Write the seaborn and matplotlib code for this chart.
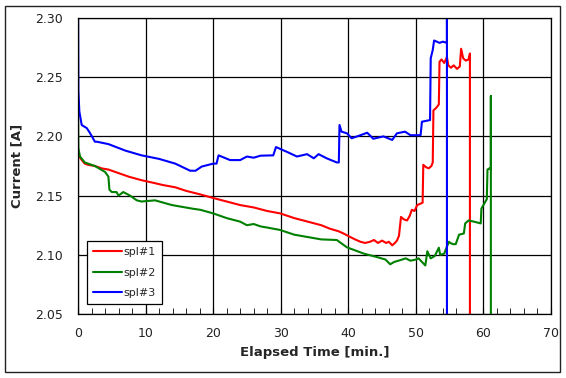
import matplotlib
matplotlib.use("Agg")
import matplotlib.pyplot as plt
from matplotlib.patches import Rectangle
from matplotlib.ticker import MultipleLocator, FormatStrFormatter
import seaborn as sns
import pandas as pd

# spl#1 (red)
t1 = [0, 0.3, 0.7, 1.0, 1.5, 2.5, 3.5, 4.5, 6, 7.5, 9.4, 11, 12.5, 14.4, 16, 18.1, 20, 22, 24, 26, 28, 29.9,
      32, 34, 36, 37.3, 38.5, 39.3, 40.3, 41, 41.8, 42.5, 43.2, 43.8, 44.4, 45, 45.6, 46, 46.5, 46.9, 47.2,
      47.5, 47.8, 48.2, 48.7, 49.1, 49.4, 49.8, 50.2, 50.6, 51.0, 51.1, 51.5, 51.9, 52.3, 52.5, 52.6, 53.0,
      53.4, 53.5, 53.8, 54.2, 54.6, 54.8, 55.2, 55.6, 56.1, 56.5, 56.7, 57.0, 57.4, 57.8, 58.0, 58.0]
y1 = [2.187, 2.182, 2.179, 2.177, 2.176, 2.175, 2.173, 2.172, 2.169, 2.166, 2.163, 2.161, 2.159, 2.157, 2.154,
      2.151, 2.148, 2.145, 2.142, 2.140, 2.137, 2.135, 2.131, 2.128, 2.125, 2.122, 2.120, 2.118, 2.115, 2.113,
      2.111, 2.110, 2.111, 2.1125, 2.110, 2.112, 2.110, 2.111, 2.108, 2.110, 2.112, 2.116, 2.132, 2.130, 2.129,
      2.133, 2.138, 2.137, 2.142, 2.143, 2.144, 2.176, 2.174, 2.173, 2.175, 2.178, 2.222, 2.224, 2.227, 2.263,
      2.265, 2.262, 2.267, 2.260, 2.258, 2.260, 2.257, 2.259, 2.274, 2.266, 2.264, 2.265, 2.270, 2.00]

# spl#2 (green)
t2 = [0, 0.05, 0.3, 1.0, 2.5, 4.0, 4.5, 4.65, 5.0, 5.7, 6.0, 6.7, 7.7, 8.7, 9.4, 11.4, 13.9, 16.9, 18.1, 20,
      22, 24, 25, 26, 27, 28, 29.9, 32, 34, 36, 38.3, 39.8, 42.3, 44.3, 45.5, 46.2, 46.8, 47.7, 48.5, 49.2,
      50.0, 50.4, 50.9, 51.4, 51.7, 52.2, 52.8, 53.4, 53.6, 54.2, 54.6, 54.9, 55.1, 55.5, 55.9, 56.4, 57.1,
      57.3, 57.8, 58.6, 59.6, 59.7, 60.3, 60.5, 60.6, 60.9, 61.1, 61.1, 61.1]
y2 = [2.220, 2.190, 2.183, 2.178, 2.175, 2.170, 2.166, 2.155, 2.153, 2.153, 2.150, 2.153, 2.150, 2.146, 2.145,
      2.146, 2.142, 2.139, 2.138, 2.135, 2.131, 2.128, 2.125, 2.126, 2.124, 2.123, 2.121, 2.117, 2.115, 2.113,
      2.1125, 2.1063, 2.101, 2.098, 2.096, 2.092, 2.094, 2.0955, 2.097, 2.095, 2.096, 2.097, 2.094, 2.091,
      2.103, 2.097, 2.099, 2.106, 2.100, 2.101, 2.107, 2.111, 2.110, 2.109, 2.109, 2.117, 2.118, 2.1265, 2.129,
      2.128, 2.1265, 2.139, 2.145, 2.147, 2.172, 2.173, 2.172, 2.234, 2.00]

# spl#3 (blue)
t3 = [0, 0.05, 0.2, 0.55, 1.3, 1.8, 2.5, 2.8, 4.5, 7, 9.4, 12, 14.4, 16.6, 17.4, 18.3, 20, 20.5, 20.8, 22.5,
      24, 25, 26, 27, 28.9, 29.3, 30.9, 32.4, 33.9, 34.9, 35.6, 36.8, 38.3, 38.6, 38.7, 39.0, 39.8, 40.5,
      41.8, 42.8, 43.7, 45.2, 46.5, 47.2, 48.4, 49.2, 50.7, 50.9, 52.1, 52.2, 52.5, 52.7, 53.5, 54.0, 54.6,
      54.6, 54.6]
y3 = [2.320, 2.239, 2.221, 2.2096, 2.207, 2.2026, 2.1955, 2.1955, 2.1935, 2.188, 2.184, 2.181, 2.177, 2.171,
      2.171, 2.1745, 2.177, 2.177, 2.184, 2.180, 2.180, 2.183, 2.182, 2.1837, 2.184, 2.191, 2.187, 2.183, 2.185,
      2.1815, 2.185, 2.1815, 2.178, 2.178, 2.2096, 2.204, 2.2026, 2.1984, 2.201, 2.2031, 2.198, 2.200, 2.197,
      2.2026, 2.204, 2.201, 2.201, 2.2124, 2.2138, 2.266, 2.273, 2.281, 2.279, 2.280, 2.279, 2.32, 2.00]

labels = ["spl#1", "spl#2", "spl#3"]
colors = ["#ff0000", "#008000", "#0000ff"]

df = pd.concat([
    pd.DataFrame({"t": t1, "y": y1, "s": labels[0]}),
    pd.DataFrame({"t": t2, "y": y2, "s": labels[1]}),
    pd.DataFrame({"t": t3, "y": y3, "s": labels[2]}),
], ignore_index=True)

sns.set_style("white")
plt.rcParams["font.family"] = ["DejaVu Sans"]

fig = plt.figure(figsize=(5.66, 3.78), dpi=100)
ax = fig.add_axes([0.1378, 0.1693, 0.8357, 0.7831])

sns.lineplot(data=df, x="t", y="y", hue="s", palette=colors, sort=False, estimator=None,
             linewidth=1.5, ax=ax)

ax.set_xlim(0, 70)
ax.set_ylim(2.05, 2.30)
ax.xaxis.set_major_locator(MultipleLocator(10))
ax.xaxis.set_minor_locator(MultipleLocator(2))
ax.yaxis.set_major_locator(MultipleLocator(0.05))
ax.yaxis.set_major_formatter(FormatStrFormatter("%.2f"))
ax.grid(True, which="major", color="black", linewidth=0.9)
ax.set_axisbelow(True)
for sp in ax.spines.values():
    sp.set_color("black")
    sp.set_linewidth(0.9)

ax.tick_params(axis="x", which="major", direction="in", length=4, color="black", pad=9,
               labelsize=9, labelcolor="#222222", bottom=True)
ax.tick_params(axis="x", which="minor", direction="in", length=4, color="black", bottom=True)
ax.tick_params(axis="y", which="major", length=0, pad=11, labelsize=9, labelcolor="#222222")

ax.set_xlabel("Elapsed Time [min.]", fontsize=9.5, fontweight="bold", labelpad=5)
ax.set_ylabel("Current [A]", fontsize=9.5, fontweight="bold", labelpad=8)

leg = ax.legend(loc="lower left", bbox_to_anchor=(0.018, 0.033), borderaxespad=0, fontsize=8,
                frameon=True, fancybox=False, edgecolor="black", framealpha=1,
                handlelength=2.6, handletextpad=0.15, labelspacing=0.95, borderpad=0.55)
leg.get_frame().set_linewidth(0.9)

fig.patches.append(Rectangle((5 / 566, 6 / 378), 555 / 566, 366 / 378, transform=fig.transFigure,
                             fill=False, edgecolor="#222222", linewidth=1.0))

fig.savefig("out.png", dpi=100)
